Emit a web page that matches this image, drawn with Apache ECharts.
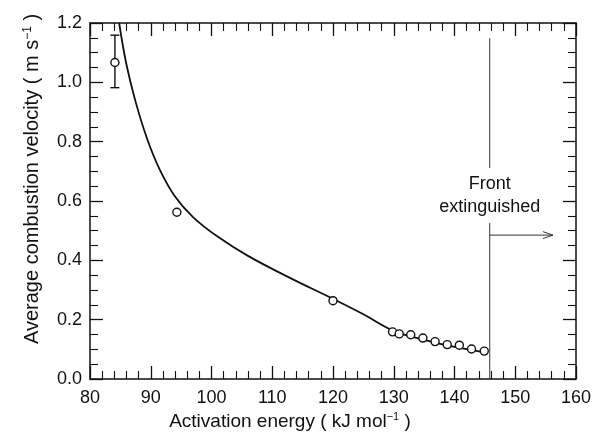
<!DOCTYPE html>
<html>
<head>
<meta charset="utf-8">
<script src="https://cdn.jsdelivr.net/npm/echarts@6/dist/echarts.min.js"></script>
<style>
  html, body { margin: 0; padding: 0; background: #fff; }
  #chart { width: 595px; height: 448px; }
</style>
</head>
<body>
<div id="chart"></div>
<script>
// Fitted curve of combustion velocity vs activation energy
const curveE = [84.8, 86.0, 87.5, 89.4, 91.5, 94.0, 97.0, 101.0, 106.0, 113.0, 120.0, 125.0, 130.0, 135.0, 140.0, 145.0];
const curveV = [1.2, 1.06, 0.935, 0.81, 0.705, 0.615, 0.545, 0.48, 0.415, 0.34, 0.27, 0.218, 0.162, 0.132, 0.108, 0.09];

// Measured points
const pointE = [84.1, 94.3, 120.0, 129.8, 130.9, 132.8, 134.8, 136.8, 138.8, 140.8, 142.8, 144.9];
const pointV = [1.067, 0.562, 0.264, 0.159, 0.152, 0.149, 0.138, 0.126, 0.116, 0.114, 0.101, 0.094];

// Error bar on the first point
const errE = [84.1];
const errLow = [0.982];
const errHigh = [1.159];

// Extinction limit annotation
const frontE = 145.8;
const frontLineTop = 1.149;
const frontGapTop = 0.711;
const frontGapBottom = 0.526;
const arrowV = 0.485;
const arrowEndE = 156.2;
const frontTextV = 0.617;
const frontText = 'Front\nextinguished';

const xTicks = [80, 90, 100, 110, 120, 130, 140, 150, 160];
const yTicks = [0.0, 0.2, 0.4, 0.6, 0.8, 1.0, 1.2];

const FONT = '"Liberation Sans", Arial, Helvetica, sans-serif';
const INK = '#111';

const chart = echarts.init(document.getElementById('chart'), null, { renderer: 'canvas' });

const baseAxis = {
  type: 'value',
  splitLine: { show: false },
  axisLine: { show: true, onZero: false, lineStyle: { color: INK, width: 1.5 } },
  axisTick: { show: true, inside: true, length: 13, lineStyle: { color: INK, width: 1.3 } },
  minorTick: { show: true, length: 8, lineStyle: { color: INK, width: 1.1 } },
  minorSplitLine: { show: false }
};

const option = {
  backgroundColor: '#fff',
  animation: false,
  grid: { left: 90, right: 19, top: 23, bottom: 69 },
  xAxis: [
    Object.assign({}, baseAxis, {
      position: 'bottom',
      min: xTicks[0], max: xTicks[xTicks.length - 1], interval: 10,
      minorTick: Object.assign({}, baseAxis.minorTick, { splitNumber: 5 }),
      axisLabel: { color: INK, fontSize: 18, fontFamily: FONT, margin: 10 },
      name: 'Activation energy ( kJ mol{sup|−1} )',
      nameLocation: 'middle',
      nameGap: 27,
      nameTextStyle: {
        color: INK, fontSize: 19, fontFamily: FONT,
        padding: [0, 86, 0, 0],
        rich: { sup: { fontSize: 11, fontFamily: FONT, color: INK, verticalAlign: 'top' } }
      }
    }),
    Object.assign({}, baseAxis, {
      position: 'top',
      min: xTicks[0], max: xTicks[xTicks.length - 1], interval: 10,
      minorTick: Object.assign({}, baseAxis.minorTick, { splitNumber: 5 }),
      axisLabel: { show: false }
    })
  ],
  yAxis: [
    Object.assign({}, baseAxis, {
      position: 'left',
      min: yTicks[0], max: yTicks[yTicks.length - 1], interval: 0.2,
      minorTick: Object.assign({}, baseAxis.minorTick, { splitNumber: 4 }),
      axisLabel: { color: INK, fontSize: 18, fontFamily: FONT, margin: 8, formatter: v => v.toFixed(1) },
      name: 'Average combustion velocity ( m s{sup|−1} )',
      nameLocation: 'middle',
      nameGap: 48,
      nameTextStyle: {
        color: INK, fontSize: 20, fontFamily: FONT,
        padding: [0, 0, 0, 44],
        rich: { sup: { fontSize: 12, fontFamily: FONT, color: INK, verticalAlign: 'top' } }
      }
    }),
    Object.assign({}, baseAxis, {
      position: 'right',
      min: yTicks[0], max: yTicks[yTicks.length - 1], interval: 0.2,
      minorTick: Object.assign({}, baseAxis.minorTick, { splitNumber: 4 }),
      axisLabel: { show: false }
    })
  ],
  series: [
    {
      type: 'line',
      data: curveE.map((e, i) => [e, curveV[i]]),
      smooth: 0.4,
      symbol: 'none',
      clip: true,
      lineStyle: { color: INK, width: 1.8 },
      z: 3
    },
    {
      type: 'custom',
      data: errE.map((e, i) => [e, errLow[i], errHigh[i]]),
      renderItem: function (params, api) {
        const e = api.value(0);
        const lo = api.coord([e, api.value(1)]);
        const hi = api.coord([e, api.value(2)]);
        const cap = 4.5;
        const st = { stroke: INK, lineWidth: 1.4 };
        return {
          type: 'group',
          children: [
            { type: 'line', shape: { x1: lo[0], y1: lo[1], x2: hi[0], y2: hi[1] }, style: st },
            { type: 'line', shape: { x1: lo[0] - cap, y1: lo[1], x2: lo[0] + cap, y2: lo[1] }, style: st },
            { type: 'line', shape: { x1: hi[0] - cap, y1: hi[1], x2: hi[0] + cap, y2: hi[1] }, style: st }
          ]
        };
      },
      z: 4
    },
    {
      type: 'scatter',
      data: pointE.map((e, i) => [e, pointV[i]]),
      symbol: 'circle',
      symbolSize: 8,
      itemStyle: { color: '#fff', opacity: 1, borderColor: INK, borderWidth: 1.4 },
      z: 5
    },
    {
      type: 'custom',
      data: [[frontE, frontLineTop, frontGapTop, frontGapBottom, arrowV, arrowEndE, frontTextV]],
      clip: false,
      renderItem: function (params, api) {
        const e = api.value(0);
        const pTop = api.coord([e, api.value(1)]);
        const pGap1 = api.coord([e, api.value(2)]);
        const pGap2 = api.coord([e, api.value(3)]);
        const pBase = api.coord([e, 0]);
        const pArrow0 = api.coord([e, api.value(4)]);
        const pArrow1 = api.coord([api.value(5), api.value(4)]);
        const pText = api.coord([e, api.value(6)]);
        const st = { stroke: '#333', lineWidth: 1 };
        return {
          type: 'group',
          children: [
            { type: 'line', shape: { x1: pTop[0], y1: pTop[1], x2: pGap1[0], y2: pGap1[1] }, style: st },
            { type: 'line', shape: { x1: pGap2[0], y1: pGap2[1], x2: pBase[0], y2: pBase[1] }, style: st },
            { type: 'line', shape: { x1: pArrow0[0], y1: pArrow0[1], x2: pArrow1[0], y2: pArrow1[1] }, style: st },
            { type: 'polyline', shape: { points: [[pArrow1[0] - 10, pArrow1[1] - 3.5], [pArrow1[0], pArrow1[1]], [pArrow1[0] - 10, pArrow1[1] + 3.5]] }, style: { stroke: '#333', lineWidth: 1, fill: null } },
            {
              type: 'text',
              x: pText[0], y: pText[1],
              style: {
                text: frontText,
                fill: INK,
                fontSize: 18,
                fontFamily: FONT,
                lineHeight: 23,
                align: 'center',
                verticalAlign: 'middle'
              }
            }
          ]
        };
      },
      z: 6
    }
  ]
};

chart.setOption(option);
</script>
</body>
</html>
